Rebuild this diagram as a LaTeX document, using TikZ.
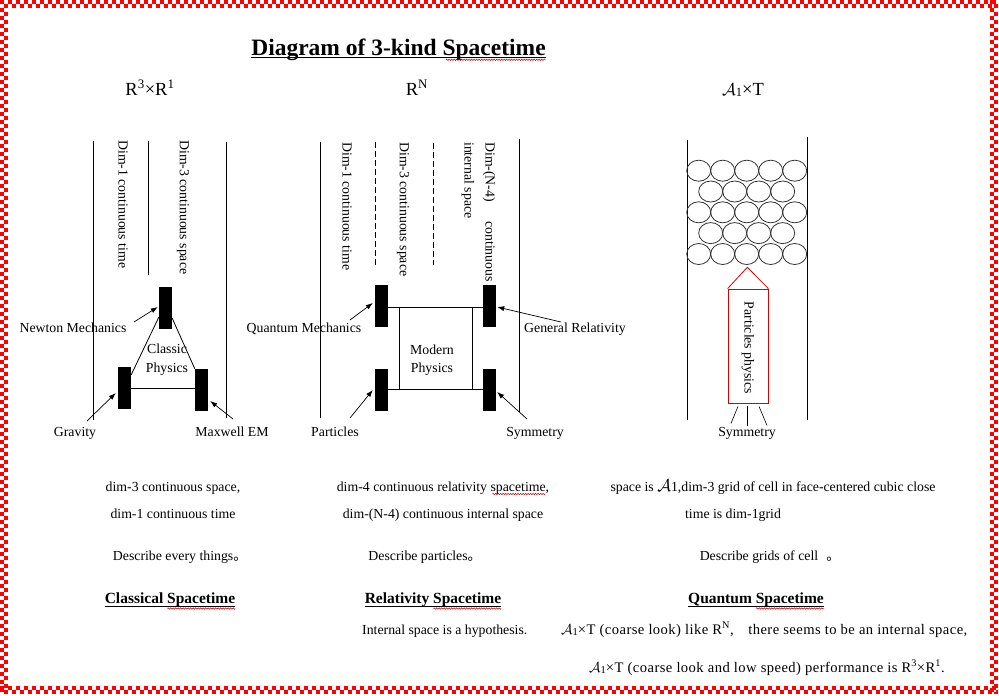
\documentclass[tikz,border=0pt]{standalone}
\usepackage{fontspec}
\setmainfont{Liberation Serif}
\newfontfamily\cjk{Noto Sans CJK SC}
\newfontfamily\spaced[LetterSpace=3]{Liberation Serif}
\usetikzlibrary{arrows.meta,calc,decorations.pathmorphing}
\begin{document}
\begin{tikzpicture}[x=1pt,y=-1pt,
 txt/.style={inner sep=0pt, anchor=base, font=\fontsize{13.8}{16}\selectfont},
 vtxt/.style={inner sep=0pt, rotate=-90, anchor=west, font=\fontsize{13.8}{16}\selectfont},
 note/.style={inner sep=0pt, anchor=base west, font=\fontsize{14.6}{17}\spaced},
 hdr/.style={inner sep=0pt, anchor=base, font=\fontsize{18.5}{21}\selectfont},
 ttl/.style={inner sep=0pt, anchor=base, font=\fontsize{15.5}{18}\selectfont\bfseries},
 blk/.style={fill=black, draw=none, minimum width=13pt, minimum height=42pt, inner sep=0pt},
 ln/.style={line width=0.8pt},
 arr/.style={line width=0.7pt, -{Latex[length=7pt,width=5pt]}},
 uline/.style={line width=1.8pt},
 wavy/.style={red!80!black, line width=0.5pt, decorate, decoration={snake, amplitude=0.7pt, segment length=2.5pt}},
 cell/.style={draw=black!80, line width=0.8pt},
]
\useasboundingbox (0,0) rectangle (999,696);
\fill[white] (0,0) rectangle (999,696);
% checkered border
\foreach \i in {0,...,124} {
  \fill[red] (8*\i,0) rectangle ++(4,4);
  \fill[red] (8*\i+4,4) rectangle ++(4,4);
  \fill[red] (8*\i,686) rectangle ++(4,4);
  \fill[red] (8*\i+4,690) rectangle ++(4,4);
}
\foreach \j in {0,...,86} {
  \fill[red] (0,8*\j) rectangle ++(4,4);
  \fill[red] (4,8*\j+4) rectangle ++(4,4);
  \fill[red] (990,8*\j) rectangle ++(4,4);
  \fill[red] (994,8*\j+4) rectangle ++(4,4);
}
\fill[white] (0,694) rectangle (999,696);
\fill[white] (998,0) rectangle (999,696);

% title
\node[inner sep=0pt, anchor=base, font=\fontsize{23.5}{26}\selectfont\bfseries] (title) at (398.5,55) {Diagram of 3-kind Spacetime};
\draw[uline] ($(title.base west)+(0,2.5)$) -- ($(title.base east)+(0,2.5)$);
\draw[wavy] ($(title.base east)+(-100,4.8)$) -- ($(title.base east)+(0,4.8)$);

% headers
\node[hdr] (hA) at (150,95) {R\textsuperscript{3}×R\textsuperscript{1}};
\node[hdr] (hB) at (417,95) {R\textsuperscript{N}};
\node[hdr] (hC) at (743,95) {$\mathcal{A}$\raisebox{-1pt}{\fontsize{12.5}{14}\selectfont 1}×T};

% ---------- column 1 ----------
\draw[ln] (93,141) -- (93,420);
\draw[ln] (148,141) -- (148,275);
\draw[ln] (226,142) -- (226,418);
\node[vtxt] (c1a) at (123,140) {Dim-1 continuous time};
\node[vtxt] (c1b) at (183,140) {Dim-3 continuous space};
\node[blk] (cT) at (165.5,308) {};
\node[blk] (cL) at (124.5,388) {};
\node[blk] (cR) at (201.5,390) {};
\draw[ln] ($(cT.south west)+(0,-12)$) -- ($(cL.north east)+(0,8)$);
\draw[ln] ($(cT.south east)+(0,-11)$) -- (cR.north west);
\draw[ln] (cL.east) -- (cL.east -| cR.west);
\node[txt] (cp1) at (167,353) {Classic};
\node[txt] (cp2) at (167,372) {Physics};
\node[txt] (newton) at (73,332) {Newton Mechanics};
\node[txt] (grav) at (75,436) {Gravity};
\node[txt] (maxw) at (232,436) {Maxwell EM};
\coordinate (tN) at (134,322);
\coordinate (tG) at (87,421);
\coordinate (tM) at (233,419);
\draw[arr] (tN) -- ($(cT.west)+(-1,-1)$);
\draw[arr] (tG) -- ($(cL.west)+(-2,5)$);
\draw[arr] (tM) -- ($(cR.east)+(2,11)$);

% ---------- column 2 ----------
\draw[ln] (320,142) -- (320,418);
\draw[ln, dash pattern=on 6pt off 3pt] (375,142) -- (375,265);
\draw[ln, dash pattern=on 6pt off 3pt] (433,143) -- (433,265);
\draw[ln] (519,139) -- (519,412);
\node[vtxt] (c2a) at (347,142) {Dim-1 continuous time};
\node[vtxt] (c2b) at (403,142) {Dim-3 continuous space};
\node[vtxt] (c2c) at (489,142) {Dim-(N-4)\hspace{1.4em}continuous};
\node[vtxt] (c2d) at (468,142) {internal space};
\node[blk] (qTL) at (381.5,306) {};
\node[blk] (qBL) at (381.5,390) {};
\node[blk] (qTR) at (489.5,306) {};
\node[blk] (qBR) at (489.5,390) {};
\node[draw, ln, minimum width=73pt, minimum height=82pt, inner sep=0pt] (mp) at (435.5,348) {};
\draw[ln] ($(qTL.east)+(0,1)$) -- ($(qTR.west)+(0,1)$);
\draw[ln] ($(qBL.east)+(0,-1)$) -- ($(qBR.west)+(0,-1)$);
\node[txt] (mp1) at (432,354) {Modern};
\node[txt] (mp2) at (432,372) {Physics};
\node[txt] (qm) at (304,332) {Quantum Mechanics};
\node[txt] (gr) at (575,332) {General Relativity};
\node[txt] (part) at (335,436) {Particles};
\node[txt] (sym) at (535,436) {Symmetry};
\coordinate (tQ) at (350,320);
\coordinate (tR) at (561,322);
\coordinate (tP) at (350,418);
\coordinate (tS) at (527,419);
\draw[arr] (tQ) -- ($(qTL.west)+(-2,-3)$);
\draw[arr] (tR) -- ($(qTR.east)+(1,1)$);
\draw[arr] (tP) -- ($(qBL.west)+(-2,0)$);
\draw[arr] (tS) -- ($(qBR.east)+(1,2)$);

% ---------- column 3 ----------
\draw[ln] (687,140) -- (687,420);
\draw[ln] (807,137) -- (807,420);
\foreach \yy in {170.7,212.3,254} {
  \foreach \k in {0,...,4} {
    \draw[cell] (698.7+24*\k,\yy) ellipse [x radius=12, y radius=10.5];
  }
}
\foreach \yy in {191.5,233.1} {
  \foreach \k in {0,...,3} {
    \draw[cell] (710.7+24*\k,\yy) ellipse [x radius=12, y radius=10.5];
  }
}
\node[draw=red!85!black, line width=0.8pt, minimum width=40pt, minimum height=114pt, inner sep=0pt] (pp) at (748,346) {};
\draw[red!85!black, line width=0.8pt] (pp.north west) -- (747.3,267.3) -- (pp.north east);
\node[vtxt, anchor=center] (ppt) at (748,348) {Particles physics};
\node[txt] (sym3) at (747,436) {Symmetry};
\draw[line width=0.6pt] ($(pp.south)+(-10,3)$) -- ($(pp.south)+(-17,20)$);
\draw[line width=0.6pt] ($(pp.south)+(-0.7,3)$) -- ($(pp.south)+(-0.7,23)$);
\draw[line width=0.6pt] ($(pp.south)+(11,3)$) -- ($(pp.south)+(19,22)$);

% ---------- bottom texts ----------
\node[txt] (b1) at (173,491) {dim-3 continuous space,};
\node[txt] (b2) at (173,518) {dim-1 continuous time};
\node[txt] (b3) at (180,560) {Describe every things{\cjk 。}};
\node[txt] (b4) at (443,491) {dim-4 continuous relativity spacetime,};
\draw[wavy] ($(b4.base east)+(-57,3)$) -- ($(b4.base east)+(-4,3)$);
\node[txt] (b5) at (443,518) {dim-(N-4) continuous internal space};
\node[txt] (b6) at (425,560) {Describe particles{\cjk 。}};
\node[txt] (b7) at (773,491) {space is {\fontsize{17}{18}\selectfont$\mathcal{A}$}1,dim-3 grid of cell in face-centered cubic close};
\node[txt] (b8) at (733,518) {time is dim-1grid};
\node[txt] (b9) at (770,560) {Describe grids of cell\hspace{0.6em}{\cjk 。}};

\node[ttl] (h1) at (170,603) {Classical Spacetime};
\node[ttl] (h2) at (433,603) {Relativity Spacetime};
\node[ttl] (h3) at (756,603) {Quantum Spacetime};
\foreach \h in {h1,h2,h3} {
  \draw[uline] ($(\h.base west)+(0,3.5)$) -- ($(\h.base east)+(0,3.5)$);
  \draw[wavy] ($(\h.base east)+(-68,5.5)$) -- ($(\h.base east)+(0,5.5)$);
}
\node[txt, anchor=base west] (n1) at (362,634) {Internal space is a hypothesis.};
\node[note] (n2) at (561,634) {$\mathcal{A}$\raisebox{-1pt}{\fontsize{10.5}{12}\selectfont 1}×T (coarse look) like R\textsuperscript{N},\hspace{1em}there seems to be an internal space,};
\node[note] (n3) at (589,672) {$\mathcal{A}$\raisebox{-1pt}{\fontsize{10.5}{12}\selectfont 1}×T (coarse look and low speed) performance is R\textsuperscript{3}×R\textsuperscript{1}.};
\end{tikzpicture}
\end{document}
